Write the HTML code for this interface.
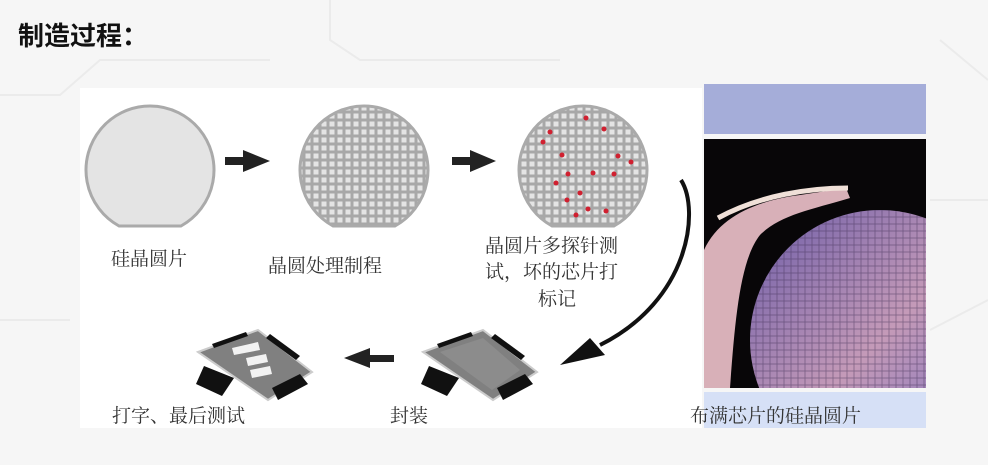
<!DOCTYPE html>
<html><head><meta charset="utf-8"><style>
html,body{margin:0;padding:0;width:988px;height:465px;overflow:hidden;background:#f6f6f6;}
svg{display:block}
text{font-family:"Liberation Serif","Noto Serif CJK SC",serif;fill:#333;}
</style></head><body>
<svg width="988" height="465" viewBox="0 0 988 465" xmlns="http://www.w3.org/2000/svg">
<defs>
<pattern id="grid" width="8" height="8" patternUnits="userSpaceOnUse">
<rect width="8" height="8" fill="#a8a8a8"/><rect x="1.5" y="1.5" width="5" height="5" fill="#e4e4e4"/>
</pattern>
<linearGradient id="wf" x1="0" y1="0" x2="1" y2="1">
<stop offset="0" stop-color="#6c5ca8"/><stop offset="0.5" stop-color="#c49ab8"/><stop offset="1" stop-color="#6a66c0"/>
</linearGradient>
<pattern id="wg" width="7" height="7" patternUnits="userSpaceOnUse">
<rect width="7" height="7" fill="none" stroke="#3a2a50" stroke-width="0.8" opacity="0.5"/>
</pattern>
</defs>
<g stroke="#ebebeb" stroke-width="2" fill="none">
<path d="M0 95 H60 L100 60 H270"/><path d="M330 0 V40 L360 60 H560"/><path d="M940 40 L988 80"/><path d="M930 200 H988"/><path d="M0 320 H70"/><path d="M930 330 L988 300"/>
</g>
<rect x="80" y="88" width="622" height="340" fill="#ffffff"/>
<text x="18" y="45" style="font-family:'Liberation Sans','Noto Sans CJK SC',sans-serif;font-weight:bold;font-size:26px;fill:#111">制造过程：</text>

<path d="M119 226 A64 64 0 1 1 181 226 Z" fill="#e4e4e4" stroke="#aaa" stroke-width="3"/>
<path d="M333 226 A64 64 0 1 1 395 226 Z" fill="url(#grid)" stroke="#aaa" stroke-width="3"/>
<path d="M552 226 A64 64 0 1 1 614 226 Z" fill="url(#grid)" stroke="#aaa" stroke-width="3"/>
<g fill="#d02030">
<circle cx="543" cy="142" r="2.5"/><circle cx="550" cy="132" r="2.5"/><circle cx="586" cy="118" r="2.5"/><circle cx="604" cy="129" r="2.5"/><circle cx="562" cy="155" r="2.5"/><circle cx="618" cy="156" r="2.5"/><circle cx="631" cy="162" r="2.5"/><circle cx="568" cy="174" r="2.5"/><circle cx="593" cy="173" r="2.5"/><circle cx="614" cy="174" r="2.5"/><circle cx="556" cy="183" r="2.5"/><circle cx="580" cy="193" r="2.5"/><circle cx="567" cy="200" r="2.5"/><circle cx="606" cy="211" r="2.5"/><circle cx="588" cy="209" r="2.5"/><circle cx="576" cy="215" r="2.5"/>
</g>
<g fill="#222">
<rect x="225" y="157" width="20" height="8"/><polygon points="243,150 270,161 243,172"/>
<rect x="452" y="157" width="20" height="8"/><polygon points="470,150 496,161 470,172"/>
<rect x="368" y="355" width="26" height="7"/><polygon points="370,348 344,358 370,368"/>
</g>
<path d="M681 180 C700 210 690 300 600 345" stroke="#111" stroke-width="4" fill="none"/>
<polygon points="560,365 590,338 605,355" fill="#111"/>

<!-- chip 1 -->
<g>
<polygon points="198,352 258,330 312,372 268,400" fill="#808080" stroke="#ccc" stroke-width="2"/>
<polygon points="204,366 234,378 222,396 196,384" fill="#111"/>
<polygon points="272,388 300,374 308,384 278,400" fill="#111"/>
<polygon points="212,344 246,332 248,336 214,348" fill="#111"/>
<polygon points="270,334 300,356 296,360 266,338" fill="#111"/>
<polygon points="232,348 258,342 260,350 234,355" fill="#f2f2f2"/>
<polygon points="246,358 266,354 268,362 248,366" fill="#f2f2f2"/>
<polygon points="250,370 270,366 272,374 252,378" fill="#f2f2f2"/>
</g>
<!-- chip 2 -->
<g>
<polygon points="423,352 483,330 537,372 493,400" fill="#808080" stroke="#ccc" stroke-width="2"/>
<polygon points="440,352 483,338 520,370 492,390" fill="#8c8c8c"/>
<polygon points="429,366 459,378 447,396 421,384" fill="#111"/>
<polygon points="497,388 525,374 533,384 503,400" fill="#111"/>
<polygon points="437,344 471,332 473,336 439,348" fill="#111"/>
<polygon points="495,334 525,356 521,360 491,338" fill="#111"/>
</g>

<rect x="704" y="84" width="222" height="50" fill="#a5add9"/>
<rect x="704" y="139" width="222" height="249" fill="#080608"/>
<clipPath id="pc"><rect x="704" y="139" width="222" height="249"/></clipPath>
<g clip-path="url(#pc)">
<circle cx="880" cy="340" r="130" fill="url(#wf)"/>
<circle cx="880" cy="340" r="130" fill="url(#wg)"/>
<path d="M704 250 C720 215 760 200 800 195 L846 188 L850 198 C810 210 780 215 760 235 C740 260 735 320 730 388 L704 388 Z" fill="#d8b0b8"/>
<path d="M718 218 C760 195 810 188 848 188" stroke="#f0e0d8" stroke-width="5" fill="none"/>
</g>
<rect x="704" y="392" width="222" height="36" fill="#d6e0f6"/>

<g style="font-size:19px">
<text x="111" y="265">硅晶圆片</text>
<text x="268" y="272">晶圆处理制程</text>
<text x="485" y="252">晶圆片多探针测</text>
<text x="485" y="278">试，坏的芯片打</text>
<text x="538" y="305">标记</text>
<text x="112" y="422">打字、最后测试</text>
<text x="390" y="422">封装</text>
<text x="690" y="422">布满芯片的硅晶圆片</text>
</g>
</svg>
</body></html>
